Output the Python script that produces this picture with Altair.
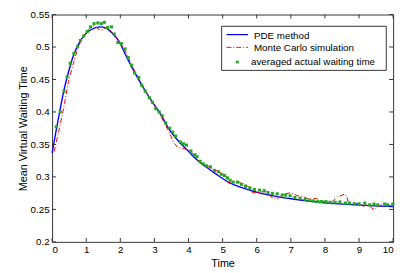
import altair as alt
import pandas as pd

# ---- data ----
pde_t = [0, 0.1, 0.2, 0.35, 0.5, 0.62, 0.77, 0.96, 1.15, 1.39, 1.58, 1.77, 1.96, 2.18, 2.44,
         2.83, 3.21, 3.40, 3.69, 3.97, 4.21, 4.5, 4.79, 5.17, 5.65, 6.13, 6.6, 7.09, 7.5, 7.9,
         8.4, 8.86, 9.3, 9.81, 10]
pde_v = [0.337, 0.366, 0.394, 0.434, 0.465, 0.486, 0.504, 0.519, 0.527, 0.531, 0.529, 0.521,
         0.509, 0.485, 0.459, 0.424, 0.394, 0.376, 0.356, 0.341, 0.328, 0.316, 0.305, 0.292,
         0.282, 0.2747, 0.2696, 0.2657, 0.263, 0.2607, 0.2585, 0.2572, 0.2558, 0.2547, 0.2545]

mc_t = [0.06, 0.19, 0.34, 0.48, 0.62, 0.77, 0.91, 1.05, 1.18, 1.26, 1.34, 1.44, 1.58, 1.73,
        1.87, 1.96, 2.15, 2.35, 2.55, 2.75, 2.95, 3.15, 3.35, 3.45, 3.55, 3.69, 3.83, 3.97,
        4.11, 4.31, 4.5, 4.69, 4.88, 5.08, 5.17, 5.26, 5.40, 5.55, 5.65, 5.80, 5.88, 6.03,
        6.17, 6.32, 6.41, 6.51, 6.60, 6.70, 6.84, 6.99, 7.08, 7.22, 7.37, 7.46, 7.61, 7.75,
        7.85, 7.99, 8.18, 8.28, 8.37, 8.47, 8.58, 8.65, 8.68, 8.85, 8.99, 9.13, 9.27, 9.36,
        9.45, 9.55, 9.67, 9.79, 9.91, 10.0]
mc_v = [0.339, 0.369, 0.406, 0.447, 0.474, 0.501, 0.516, 0.526, 0.533, 0.532, 0.528, 0.526,
        0.529, 0.525, 0.516, 0.508, 0.494, 0.470, 0.451, 0.431, 0.413, 0.398, 0.377, 0.367,
        0.354, 0.345, 0.344, 0.342, 0.337, 0.3235, 0.318, 0.313, 0.308, 0.303, 0.2905, 0.2905,
        0.2935, 0.2905, 0.289, 0.2831, 0.2757, 0.2757, 0.2772, 0.2772, 0.2696, 0.2672, 0.2657,
        0.2707, 0.274, 0.2757, 0.2737, 0.2707, 0.2697, 0.267, 0.266, 0.267, 0.2637, 0.2622,
        0.2607, 0.2647, 0.2696, 0.271, 0.2737, 0.2696, 0.2607, 0.2597, 0.2587, 0.2547, 0.2582,
        0.2523, 0.2498, 0.2537, 0.2572, 0.2582, 0.2557, 0.257]

avg_t = [0.12, 0.24, 0.35, 0.44, 0.53, 0.64, 0.75, 0.83, 0.93, 1.03, 1.13, 1.23, 1.34, 1.44,
         1.53, 1.63, 1.74, 1.82, 1.93, 2.03, 2.14, 2.23, 2.33, 2.42, 2.54, 2.63, 2.73, 2.85,
         2.94, 3.04, 3.14, 3.23, 3.33, 3.45, 3.54, 3.62, 3.76, 3.85, 3.94, 4.07, 4.19, 4.25,
         4.34, 4.43, 4.53, 4.64, 4.76, 4.88, 4.96, 5.05, 5.14, 5.22, 5.31, 5.44, 5.55, 5.67,
         5.80, 5.93, 6.08, 6.22, 6.33, 6.46, 6.60, 6.75, 6.85, 6.98, 7.12, 7.27, 7.42, 7.55,
         7.66, 7.79, 7.90, 8.03, 8.15, 8.30, 8.44, 8.60, 8.72, 8.86, 9.00, 9.17, 9.31, 9.44,
         9.55, 9.75, 9.84, 9.99]
avg_v = [0.377, 0.400, 0.432, 0.454, 0.475, 0.490, 0.501, 0.510, 0.517, 0.524, 0.531, 0.536,
         0.537, 0.536, 0.538, 0.530, 0.531, 0.520, 0.507, 0.505, 0.497, 0.484, 0.472, 0.460,
         0.453, 0.441, 0.432, 0.422, 0.415, 0.405, 0.400, 0.394, 0.383, 0.375, 0.369, 0.363,
         0.354, 0.351, 0.349, 0.340, 0.334, 0.331, 0.324, 0.320, 0.317, 0.3155, 0.310, 0.308,
         0.304, 0.302, 0.2986, 0.295, 0.292, 0.292, 0.2886, 0.2856, 0.2831, 0.2807, 0.2797,
         0.2787, 0.276, 0.2747, 0.274, 0.2722, 0.272, 0.271, 0.2685, 0.267, 0.2655, 0.264,
         0.263, 0.262, 0.262, 0.262, 0.261, 0.261, 0.2615, 0.2597, 0.2597, 0.2585, 0.2585,
         0.2597, 0.257, 0.2582, 0.257, 0.2582, 0.257, 0.2582]

x_ticks = [0, 1, 2, 3, 4, 5, 6, 7, 8, 9, 10]
y_ticks = [0.2, 0.25, 0.3, 0.35, 0.4, 0.45, 0.5, 0.55]
series_names = ["PDE method", "Monte Carlo simulation", "averaged actual waiting time"]
x_title = "Time"
y_title = "Mean Virtual Waiting Time"

# ---- styling ----
W, H = 348, 232
FONT = "Liberation Sans"
BLUE, RED, GREEN, FRAME = "#0000ff", "#ff0000", "#22a822", "#333333"

pde = pd.DataFrame({"t": pde_t, "v": pde_v})
mc = pd.DataFrame({"t": mc_t, "v": mc_v})
avg = pd.DataFrame({"t": avg_t, "v": avg_v})
xt = pd.DataFrame({"t": x_ticks})
yt = pd.DataFrame({"v": y_ticks})
one = pd.DataFrame({"k": [0]})

xs = alt.Scale(domain=[0, 10], nice=False)
ys = alt.Scale(domain=[0.2, 0.55], nice=False, zero=False)
x_axis = alt.Axis(values=x_ticks, title=x_title, labelPadding=3, titlePadding=3, format="d",
                  domain=False, ticks=False, grid=False)
y_axis = alt.Axis(values=y_ticks, title=y_title, format=".2~f", labelPadding=3,
                  titlePadding=2, domain=False, ticks=False, grid=False)
X = alt.X("t:Q", scale=xs, axis=x_axis)
Y = alt.Y("v:Q", scale=ys, axis=y_axis)

blue = alt.Chart(pde).mark_line(color=BLUE, strokeWidth=1.4, interpolate="monotone").encode(
    x=X, y=Y)
red = alt.Chart(mc).mark_line(color=RED, strokeWidth=1, strokeDash=[5, 2, 1, 2]).encode(
    x=X, y=Y)
green = alt.Chart(avg).mark_square(size=10, color=GREEN, opacity=1).encode(x=X, y=Y)

tick_len = 4
bt = alt.Chart(xt).mark_rule(color=FRAME).encode(
    x=X, y=alt.value(H), y2=alt.value(H - tick_len))
tt = alt.Chart(xt).mark_rule(color=FRAME).encode(
    x=X, y=alt.value(0), y2=alt.value(tick_len))
lt = alt.Chart(yt).mark_rule(color=FRAME).encode(
    y=Y, x=alt.value(0), x2=alt.value(tick_len))
rt = alt.Chart(yt).mark_rule(color=FRAME).encode(
    y=Y, x=alt.value(W - tick_len), x2=alt.value(W))

# ---- legend (drawn manually, MATLAB style) ----
box = alt.Chart(one).mark_rect(fill="white", stroke=FRAME, strokeWidth=1).encode(
    x=alt.value(173), x2=alt.value(341), y=alt.value(12), y2=alt.value(57))
l1 = alt.Chart(one).mark_rule(color=BLUE, strokeWidth=1.2).encode(
    x=alt.value(178), x2=alt.value(200), y=alt.value(20.5))
l2 = alt.Chart(one).mark_rule(color=RED, strokeWidth=1, strokeDash=[5, 2, 1, 2]).encode(
    x=alt.value(178), x2=alt.value(200), y=alt.value(33.5))
l3 = alt.Chart(one).mark_square(size=8, color=GREEN, opacity=1).encode(
    x=alt.value(189), y=alt.value(48.5))
txt_kw = dict(align="left", baseline="middle", font=FONT, fontSize=10, color="black")
t1 = alt.Chart(one).mark_text(**txt_kw).encode(
    x=alt.value(206), y=alt.value(21.5), text=alt.value(series_names[0]))
t2 = alt.Chart(one).mark_text(**txt_kw).encode(
    x=alt.value(206), y=alt.value(34.5), text=alt.value(series_names[1]))
t3 = alt.Chart(one).mark_text(**txt_kw).encode(
    x=alt.value(203), y=alt.value(49), text=alt.value(series_names[2]))

chart = alt.layer(blue, red, green, bt, tt, lt, rt, box, l1, l2, l3, t1, t2, t3).properties(
    width=W, height=H, autosize="none",
    padding={"left": 45, "top": 4, "right": 6, "bottom": 24},
).configure_view(stroke=FRAME, strokeWidth=1).configure_axis(
    labelFont=FONT, labelFontSize=10, labelColor="black",
    titleFont=FONT, titleFontSize=11, titleFontWeight="normal", titleColor="black",
)

chart.save("out.html", embed_options={"renderer": "svg", "actions": False})
